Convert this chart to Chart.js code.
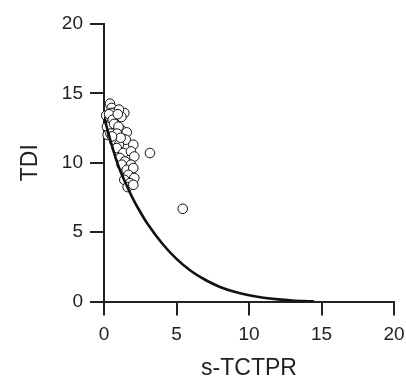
<!DOCTYPE html>
<html>
<head>
<meta charset="utf-8">
<script src="https://cdn.jsdelivr.net/npm/chart.js@4"></script>
<style>
html,body{margin:0;padding:0;background:#fff;}
#wrap{width:406px;height:376px;}
</style>
</head>
<body>
<div id="wrap"><canvas id="c"></canvas></div>
<script>
const xTitle = 's-TCTPR';
const yTitle = 'TDI';
const tickValues = [0, 5, 10, 15, 20];

// observed points (s-TCTPR, TDI)
const pointX = [0.41,0.53,0.76,1.40,1.03,0.48,0.88,0.30,0.53,0.64,1.22,1.57,0.81,1.33,0.71,1.50,1.03,2.02,0.88,1.33,1.86,2.09,1.10,1.45,1.22,1.86,1.57,2.02,1.68,2.09,1.40,1.79,1.63,2.02,
  0.15,0.20,0.35,0.60,0.25,0.45,0.70,1.00,0.90,1.20,0.95,1.15,0.55,3.17,5.43];
const pointY = [14.26,13.95,13.63,13.59,13.83,13.59,13.23,12.98,12.62,12.38,12.33,12.19,11.90,11.71,11.54,11.66,11.30,11.30,11.06,10.70,10.82,10.45,10.34,10.09,9.86,9.86,9.49,9.62,9.13,8.90,8.77,8.53,8.25,8.41,
  13.40,12.60,13.50,13.10,12.00,12.10,12.80,12.60,12.10,13.30,13.50,11.80,11.90,10.70,6.68];

// boundary curve
const curveX = [0, 0.5, 1, 1.5, 2, 2.5, 3, 4, 5, 6, 7, 8, 9, 10, 11, 12, 13, 14, 14.5];
const curveY = [13.3, 11.4, 9.75, 8.5, 7.4, 6.45, 5.6, 4.2, 3.07, 2.2, 1.55, 1.05, 0.7, 0.45, 0.27, 0.15, 0.07, 0.02, 0];

const ink = '#222';
const scatterData = pointX.map((x, i) => ({x: x, y: pointY[i]}));
const curveData = curveX.map((x, i) => ({x: x, y: curveY[i]}));

function axis(pos, title, titlePad) {
  return {
    type: 'linear',
    position: pos,
    min: tickValues[0],
    max: tickValues[tickValues.length - 1],
    afterBuildTicks: s => { s.ticks = tickValues.map(v => ({value: v})); },
    grid: {display: true, drawOnChartArea: false, drawTicks: true, tickLength: 14, lineWidth: 2, color: ink},
    border: {display: true, width: 2, color: ink},
    ticks: {color: ink, font: {family: 'Liberation Sans', size: 19}, padding: pos === 'left' ? 7 : 8, maxRotation: 0},
    title: {display: true, text: title, color: ink, font: {family: 'Liberation Sans', size: 23}, padding: titlePad}
  };
}

const xAxis = axis('bottom', xTitle, {top: 0, bottom: -6});
xAxis.afterFit = s => { s.height = 376 - 301.5; s.paddingRight = 0; s.paddingLeft = 0; };
const yAxis = axis('left', yTitle, {top: 17, bottom: 0});
yAxis.afterFit = s => { s.width = 104; s.paddingTop = 0; s.paddingBottom = 0; };

new Chart(document.getElementById('c'), {
  type: 'scatter',
  data: {
    datasets: [
      {
        type: 'line',
        data: curveData,
        borderColor: '#111',
        borderWidth: 2.6,
        pointRadius: 0,
        fill: false,
        cubicInterpolationMode: 'monotone',
        order: 0
      },
      {
        type: 'scatter',
        data: scatterData,
        pointRadius: 4.8,
        pointBorderWidth: 1,
        pointBorderColor: '#111',
        pointBackgroundColor: '#fff',
        clip: false,
        order: 1
      }
    ]
  },
  options: {
    responsive: true,
    maintainAspectRatio: false,
    animation: false,
    layout: {padding: {top: 24, right: 12, left: 0, bottom: 0}},
    plugins: {legend: {display: false}, tooltip: {enabled: false}},
    scales: {x: xAxis, y: yAxis}
  }
});
</script>
</body>
</html>
